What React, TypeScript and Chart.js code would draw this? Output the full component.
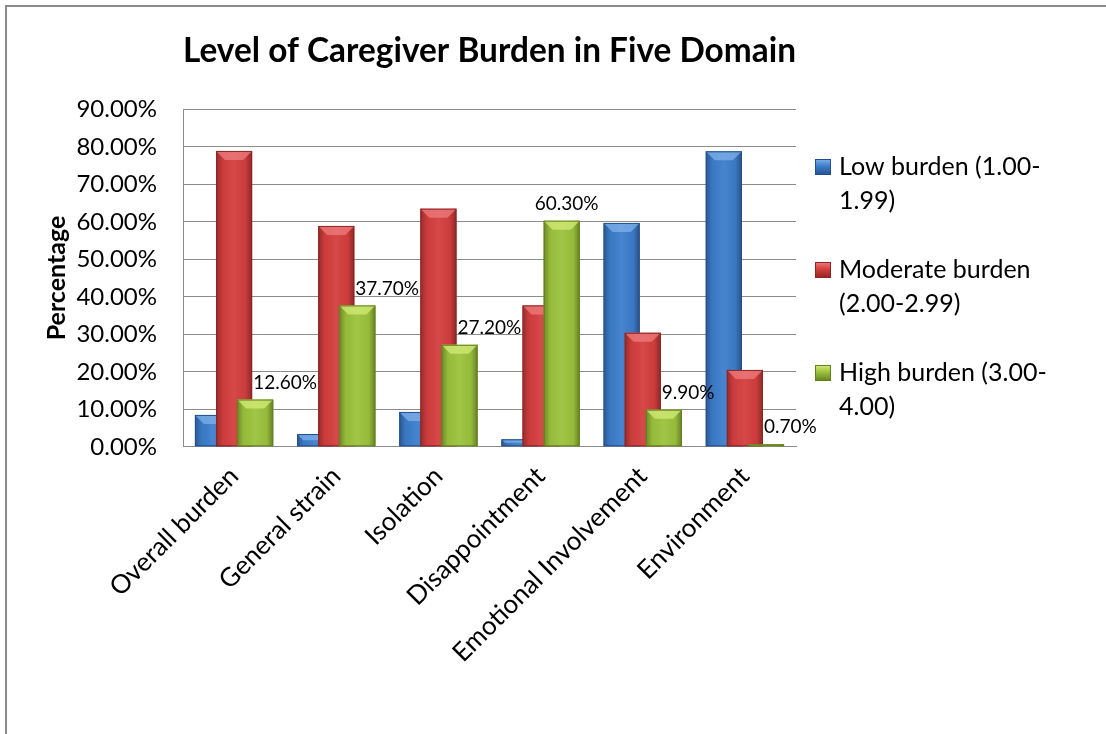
import React, { useEffect, useRef } from "react";
import { Chart, registerables } from "chart.js";

Chart.register(...registerables);

// ---------------- data ----------------
const chartTitle = "Level of Caregiver Burden in Five Domain";
const yAxisTitle = "Percentage";
const categories = [
  "Overall burden",
  "General strain",
  "Isolation",
  "Disappointment",
  "Emotional Involvement",
  "Environment",
];
const lowBurden = [8.5, 3.4, 9.3, 2.0, 59.7, 78.8];
const moderateBurden = [78.9, 58.9, 63.5, 37.7, 30.4, 20.5];
const highBurden = [12.6, 37.7, 27.2, 60.3, 9.9, 0.7];
const seriesLabels = [
  ["Low burden (1.00-", "1.99)"],
  ["Moderate burden", "(2.00-2.99)"],
  ["High burden (3.00-", "4.00)"],
];
const yMin = 0;
const yMax = 90;
const yStep = 10;

// ---------------- styles ----------------
const FONT = "Lato, 'Open Sans', sans-serif";
const palette = [
  { fill: "#3d7dcc", dark: "#234f8a", light: "#7fb0ea" },
  { fill: "#d43e3e", dark: "#8f2424", light: "#ef7d7d" },
  { fill: "#9cc23c", dark: "#62801e", light: "#d3ec78" },
];
const gridColor = "#8c8c8c";

function drawBevel(ctx: CanvasRenderingContext2D, meta: any, col: any) {
  for (const el of meta.data) {
    const p = el.getProps(["x", "y", "base", "width"], true);
    const left = p.x - p.width / 2;
    const right = p.x + p.width / 2;
    const top = Math.min(p.y, p.base);
    const bottom = Math.max(p.y, p.base);
    const h = bottom - top;
    if (h <= 0) continue;
    const g = ctx.createLinearGradient(left, 0, right, 0);
    g.addColorStop(0, "rgba(0,0,0,0.30)");
    g.addColorStop(0.18, "rgba(0,0,0,0.04)");
    g.addColorStop(0.5, "rgba(255,255,255,0.06)");
    g.addColorStop(0.82, "rgba(0,0,0,0.04)");
    g.addColorStop(1, "rgba(0,0,0,0.35)");
    ctx.fillStyle = g;
    ctx.fillRect(left, top, p.width, h);
    const b = Math.min(9, h / 2, p.width / 4);
    ctx.beginPath();
    ctx.moveTo(left, top);
    ctx.lineTo(right, top);
    ctx.lineTo(right - b, top + b);
    ctx.lineTo(left + b, top + b);
    ctx.closePath();
    ctx.fillStyle = col.light;
    ctx.globalAlpha = 0.75;
    ctx.fill();
    ctx.globalAlpha = 1;
    ctx.strokeStyle = col.dark;
    ctx.lineWidth = 1;
    ctx.strokeRect(left + 0.5, top + 0.5, p.width - 1, h - 1);
  }
}

const orderedDrawPlugin = {
  id: "orderedDraw",
  beforeDatasetsDraw(chart: any) {
    const ctx = chart.ctx;
    for (let i = 0; i < chart.data.datasets.length; i++) {
      const meta = chart.getDatasetMeta(i);
      if (!meta.visible) continue;
      ctx.save();
      meta.controller.draw();
      drawBevel(ctx, meta, palette[i]);
      ctx.restore();
    }
    return false;
  },
};

const frameAndLabelsPlugin = {
  id: "frameAndLabels",
  afterDraw(chart: any) {
    const ctx = chart.ctx;
    const area = chart.chartArea;

    // outer chart frame (only its left and top edges fall inside the picture)
    ctx.save();
    ctx.strokeStyle = "#8a8a8a";
    ctx.lineWidth = 2;
    ctx.beginPath();
    ctx.moveTo(6, chart.height + 10);
    ctx.lineTo(6, 6);
    ctx.lineTo(chart.width + 10, 6);
    ctx.stroke();
    ctx.restore();

    // data labels on the high burden series
    const metaHigh = chart.getDatasetMeta(2);
    const metaMid = chart.getDatasetMeta(1);
    ctx.save();
    ctx.font = `19px ${FONT}`;
    ctx.fillStyle = "#000";
    ctx.textBaseline = "middle";
    ctx.textAlign = "left";
    metaHigh.data.forEach((el: any, i: number) => {
      const v = chart.data.datasets[2].data[i];
      const text = `${Number(v).toFixed(2)}%`;
      const w = ctx.measureText(text).width;
      const cy = el.y - 17;
      let lx = el.x - w / 2 + 5;
      const mid = metaMid.data[i];
      const midRight = mid.x + mid.width / 2;
      if (mid.y < cy + 10 && lx < midRight) lx = midRight + 1;
      ctx.fillText(text, lx, cy);
    });
    ctx.restore();

    // legend
    ctx.save();
    ctx.font = `25px ${FONT}`;
    ctx.textBaseline = "middle";
    ctx.textAlign = "left";
    const boxX = area.right + 19;
    const textX = area.right + 43;
    seriesLabels.forEach((lines, i) => {
      const y0 = 167 + i * 103;
      const col = palette[i];
      const g = ctx.createLinearGradient(0, y0 - 8, 0, y0 + 8);
      g.addColorStop(0, col.light);
      g.addColorStop(0.45, col.fill);
      g.addColorStop(1, col.dark);
      ctx.fillStyle = g;
      ctx.fillRect(boxX, y0 - 8, 16, 16);
      ctx.strokeStyle = col.dark;
      ctx.lineWidth = 1;
      ctx.strokeRect(boxX + 0.5, y0 - 7.5, 15, 15);
      ctx.fillStyle = "#000";
      lines.forEach((t, j) => ctx.fillText(t, textX, y0 + j * 34));
    });
    ctx.restore();
  },
};

export default function App() {
  const canvasRef = useRef<HTMLCanvasElement | null>(null);

  useEffect(() => {
    const canvas = canvasRef.current;
    if (!canvas) return;
    Chart.defaults.font.family = FONT;
    const chart = new Chart(canvas, {
      type: "bar",
      data: {
        labels: categories,
        datasets: [
          { label: seriesLabels[0].join(""), data: lowBurden, backgroundColor: palette[0].fill },
          { label: seriesLabels[1].join(" "), data: moderateBurden, backgroundColor: palette[1].fill },
          { label: seriesLabels[2].join(""), data: highBurden, backgroundColor: palette[2].fill },
        ],
      },
      options: {
        responsive: false,
        devicePixelRatio: 1,
        animation: false,
        categoryPercentage: 0.62,
        barPercentage: 1.71,
        layout: { padding: { left: 0, right: 310, top: 0, bottom: 0 } },
        plugins: {
          legend: { display: false },
          tooltip: { enabled: false },
          title: {
            display: true,
            text: chartTitle,
            fullSize: false,
            color: "#000",
            font: { family: FONT, size: 34, weight: "bold", lineHeight: 1.2 },
            padding: { top: 30.6, bottom: 37.9 },
          },
        },
        scales: {
          x: {
            grid: { display: false },
            border: { display: true, color: gridColor, width: 1 },
            ticks: {
              color: "#000",
              font: { family: FONT, size: 26 },
              minRotation: 45,
              maxRotation: 45,
              autoSkip: false,
              padding: 6,
            },
            afterFit: (s: any) => {
              s.height = 287.2;
            },
          },
          y: {
            min: yMin,
            max: yMax,
            ticks: {
              stepSize: yStep,
              color: "#000",
              font: { family: FONT, size: 24 },
              padding: 26,
              callback: (v: any) => `${Number(v).toFixed(2)}%`,
            },
            grid: { color: gridColor, lineWidth: 1, drawTicks: false },
            border: { display: true, color: gridColor, width: 1 },
            title: {
              display: true,
              text: yAxisTitle,
              color: "#000",
              font: { family: FONT, size: 25, weight: "bold", lineHeight: 1.2 },
              padding: { top: 42, bottom: 0 },
            },
            afterFit: (s: any) => {
              s.width = 183;
            },
          },
        },
      },
      plugins: [orderedDrawPlugin, frameAndLabelsPlugin],
    });
    return () => chart.destroy();
  }, []);

  return (
    <div
      style={{
        position: "fixed",
        left: 0,
        top: 0,
        width: 1106,
        height: 734,
        overflow: "hidden",
        background: "#fff",
      }}
    >
      <canvas ref={canvasRef} width={1106} height={734} style={{ display: "block" }} />
    </div>
  );
}
